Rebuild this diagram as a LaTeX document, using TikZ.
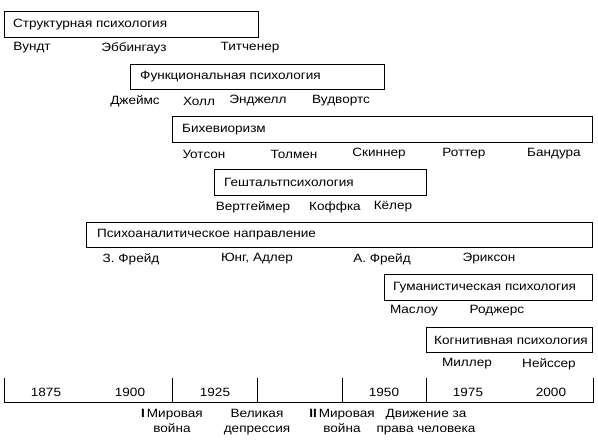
\documentclass[tikz,border=0pt]{standalone}
\usepackage{fontspec}
\setmainfont[FakeStretch=1.13]{Liberation Sans}
\usetikzlibrary{positioning}

\tikzset{
  school/.style={draw, line width=0.8pt},
  title/.style={anchor=west, inner sep=0pt, font=\fontsize{12}{14}\selectfont},
  person/.style={inner sep=0pt, font=\fontsize{12}{14}\selectfont},
  yearlbl/.style={inner sep=0pt, font=\fontsize{12}{14}\selectfont},
  eventlbl/.style={inner sep=0pt, align=center, font=\fontsize{12}{15.5}\selectfont},
}

\begin{document}
\begin{tikzpicture}[x=1pt, y=-1pt]
        \useasboundingbox (0,0) rectangle (598,444);
        % schools
        \draw[school] (4,11.7) rectangle (258,37.2);
        \node[title] (struct) at (13,24.5) {Структурная психология};
        \node[person] (wundt) at (32,48) {Вундт};
        \node[person] (ebb) at (134,48) {Эббингауз};
        \node[person] (titch) at (250,48) {Титченер};

        \draw[school] (130,64.3) rectangle (384,89.8);
        \node[title] (func) at (140,77) {Функциональная психология};
        \node[person] (james) at (135,101) {Джеймс};
        \node[person] (hall) at (199,101) {Холл};
        \node[person] (angell) at (258,101) {Энджелл};
        \node[person] (woodw) at (341,101) {Вудвортс};

        \draw[school] (172,116.9) rectangle (592,142.4);
        \node[title] (behav) at (182,129.6) {Бихевиоризм};
        \node[person] (watson) at (204,154) {Уотсон};
        \node[person] (tolman) at (294,154) {Толмен};
        \node[person] (skinner) at (379,154) {Скиннер};
        \node[person] (rotter) at (464,154) {Роттер};
        \node[person] (bandura) at (554,154) {Бандура};

        \draw[school] (214,169.5) rectangle (426,195);
        \node[title] (gestalt) at (224,182.2) {Гештальтпсихология};
        \node[person] (werth) at (253,207) {Вертгеймер};
        \node[person] (koffka) at (335,207) {Коффка};
        \node[person] (kohler) at (393,207) {Кёлер};

        \draw[school] (86,222.1) rectangle (592,247.6);
        \node[title] (psyan) at (97,234.8) {Психоаналитическое направление};
        \node[person] (sfreud) at (131,259) {З. Фрейд};
        \node[person] (jung) at (257,259) {Юнг, Адлер};
        \node[person] (afreud) at (382,259) {А. Фрейд};
        \node[person] (erikson) at (489,259) {Эриксон};

        \draw[school] (384,274.7) rectangle (592,300.2);
        \node[title] (human) at (393,287.4) {Гуманистическая психология};
        \node[person] (maslow) at (414,311) {Маслоу};
        \node[person] (rogers) at (497,311) {Роджерс};

        \draw[school] (426,327.3) rectangle (592,352.8);
        \node[title] (cogn) at (434,340) {Когнитивная психология};
        \node[person] (miller) at (467,364) {Миллер};
        \node[person] (neisser) at (549,364) {Нейссер};

        % time axis
        \coordinate (t0) at (4,402);
        \coordinate (t1) at (172,402);
        \coordinate (t2) at (257,402);
        \coordinate (t3) at (342,402);
        \coordinate (t4) at (426,402);
        \coordinate (t5) at (593,402);
        \draw[school] ([yshift=24pt]t0) -- (t0) -- (t5) -- ([yshift=24pt]t5);
        \foreach \t in {t1,t2,t3,t4}
          \draw[school] ([yshift=24pt]\t) -- (\t);
        \node[yearlbl] (y1875) at (46,392) {1875};
        \node[yearlbl] (y1900) at (130,392) {1900};
        \node[yearlbl] (y1925) at (215,392) {1925};
        \node[yearlbl] (y1950) at (384,392) {1950};
        \node[yearlbl] (y1975) at (468,392) {1975};
        \node[yearlbl] (y2000) at (551,392) {2000};

        % events
        \node[eventlbl, below=7pt of t1] (ww1) {\textbf{I}\,Мировая\\война};
        \node[eventlbl, below=7pt of t2] (depr) {Великая\\депрессия};
        \node[eventlbl, below=7pt of t3] (ww2) {\textbf{II}\,Мировая\\война};
        \node[eventlbl, below=7pt of t4] (rights) {Движение за\\права человека};
    \end{tikzpicture}
\end{document}
